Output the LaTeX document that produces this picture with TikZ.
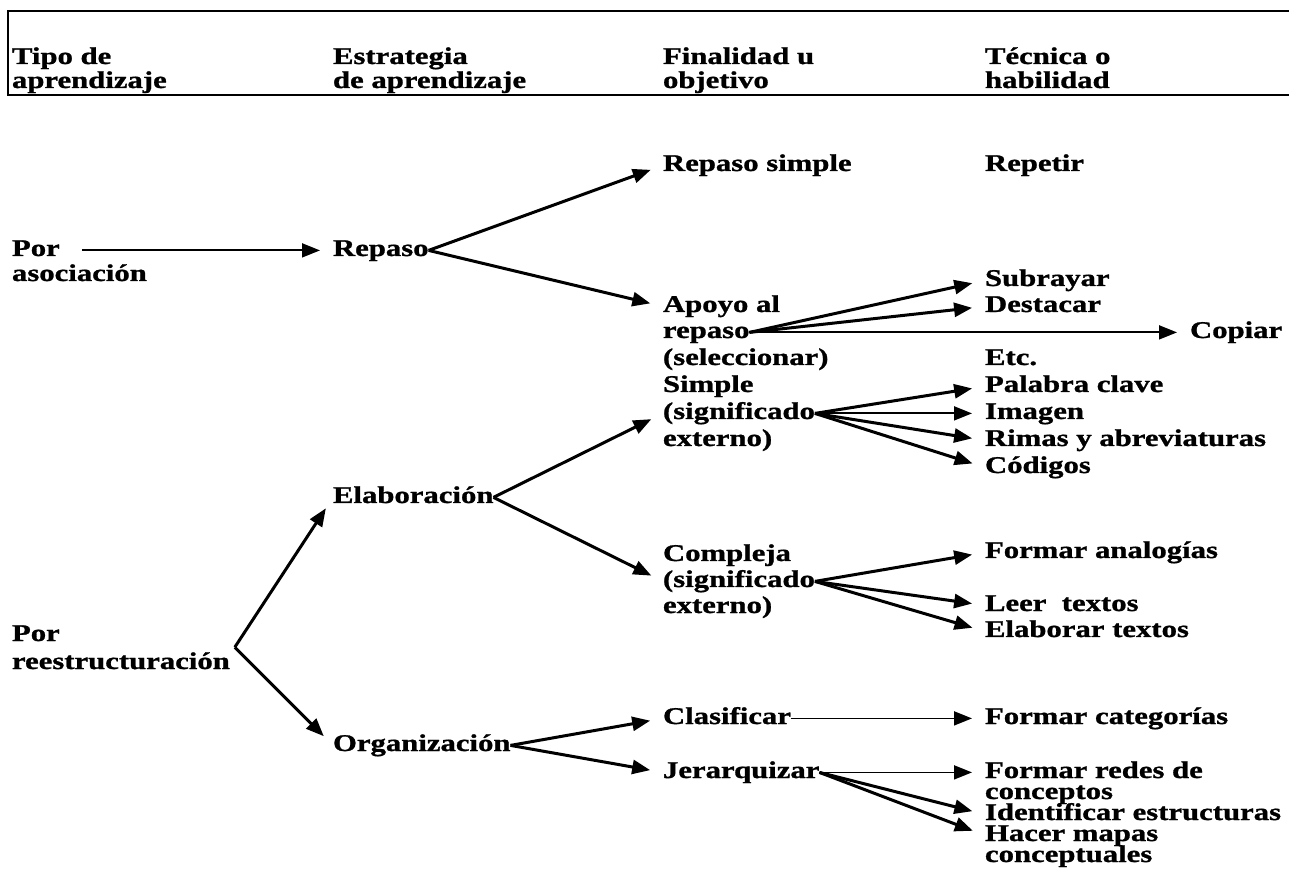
\documentclass[tikz,border=0pt]{standalone}
\usepackage{fontspec}
\newfontfamily\diagfont{Liberation Serif}[FakeStretch=1.28, BoldFeatures={FakeBold=1.1}]
\usepackage{tikz}
\usetikzlibrary{arrows.meta, positioning, calc}
\tikzset{
    entry/.style={
        anchor=base west,
        inner sep=0pt,
        outer sep=0pt,
        text height=8.4pt,
        text depth=2.8pt,
        font=\diagfont\bfseries\fontsize{12pt}{14pt}\selectfont
    },
    headtext/.style={
        entry
    },
    link/.style={
        draw=black,
        line width=1.5pt,
        -{Triangle[length=9pt, width=7pt]},
        shorten >=6.5pt
    },
    flatlink/.style={
        link,
        line width=0.9pt
    },
    frame/.style={
        draw=black,
        line width=0.9pt
    }
}

\begin{document}
\begin{tikzpicture}[x=0.5pt, y=-0.5pt]

\useasboundingbox (0,0) rectangle (1289,870);
\fill[white] (0,0) rectangle (1289,870);

% Header
\draw[frame] (1289,11) -- (8,11) -- (8,95) -- (1289,95);
\node[headtext] (tipoA) at (12,64) {Tipo de};
\node[headtext] (tipoB) at (12,88) {aprendizaje};
\node[headtext] (estrA) at (333,64) {Estrategia};
\node[headtext] (estrB) at (333,88) {de aprendizaje};
\node[headtext] (finA) at (663,64) {Finalidad u};
\node[headtext] (finB) at (663,88) {objetivo};
\node[headtext] (tecA) at (985,64) {Técnica o};
\node[headtext] (tecB) at (985,88) {habilidad};

% Tipo de aprendizaje
\node[entry] (asocA) at (12,256) {Por};
\node[entry] (asocB) at (12,281) {asociación};
\node[entry] (reestA) at (12,641) {Por};
\node[entry] (reestB) at (12,669) {reestructuración};

% Estrategias
\node[entry] (repaso) at (333,256) {Repaso};
\node[entry] (elab) at (333,503) {Elaboración};
\node[entry] (organ) at (333,751) {Organización};

% Finalidades
\node[entry] (repsimple) at (663,171) {Repaso simple};
\node[entry] (apoyoA) at (663,312) {Apoyo al};
\node[entry] (apoyoB) at (663,338) {repaso};
\node[entry] (apoyoC) at (663,365) {(seleccionar)};
\node[entry] (simpleA) at (663,392) {Simple};
\node[entry] (simpleB) at (663,419) {(significado};
\node[entry] (simpleC) at (663,446) {externo)};
\node[entry] (complA) at (663,561) {Compleja};
\node[entry] (complB) at (663,587) {(significado};
\node[entry] (complC) at (663,613) {externo)};
\node[entry] (clasif) at (663,724) {Clasificar};
\node[entry] (jerarq) at (663,778) {Jerarquizar};

% Tecnicas
\node[entry] (repetir) at (985,171) {Repetir};
\node[entry] (subrayar) at (985,286) {Subrayar};
\node[entry] (destacar) at (985,312) {Destacar};
\node[entry] (copiar) at (1190,338) {Copiar};
\node[entry] (etc) at (985,365) {Etc.};
\node[entry] (palabra) at (985,392) {Palabra clave};
\node[entry] (imagen) at (985,419) {Imagen};
\node[entry] (rimas) at (985,446) {Rimas y abreviaturas};
\node[entry] (codigos) at (985,473) {Códigos};
\node[entry] (analog) at (985,558) {Formar analogías};
\node[entry] (leer) at (985,611) {Leer~ textos};
\node[entry] (elabtex) at (985,637) {Elaborar textos};
\node[entry] (categ) at (985,724) {Formar categorías};
\node[entry] (redesA) at (985,778) {Formar redes de};
\node[entry] (redesB) at (985,799) {conceptos};
\node[entry] (identif) at (985,820) {Identificar estructuras};
\node[entry] (mapasA) at (985,841) {Hacer mapas};
\node[entry] (mapasB) at (985,862) {conceptuales};

% Connectors
\draw[flatlink, shorten <=11pt] (asocA.east) -- (repaso.west);
\draw[link] (repaso.east) -- (repsimple.west);
\draw[link] (repaso.east) -- (apoyoA.west);
\draw[link] (apoyoB.east) -- (subrayar.west);
\draw[link] (apoyoB.east) -- (destacar.west);
\draw[flatlink] (apoyoB.east) -- (copiar.west);

\draw[link] (elab.east) -- (simpleB.west);
\draw[link] (elab.east) -- (complB.west);
\draw[link] (simpleB.east) -- (palabra.west);
\draw[flatlink] (simpleB.east) -- (imagen.west);
\draw[link] (simpleB.east) -- (rimas.west);
\draw[link] (simpleB.east) -- (codigos.west);
\draw[link] (complB.east) -- (analog.west);
\draw[link] (complB.east) -- (leer.west);
\draw[link] (complB.east) -- (elabtex.west);

\coordinate (reestfork) at ($(reestB.north east)+(5,-5)$);
\draw[link] (reestfork) -- (elab.west);
\draw[link] (reestfork) -- (organ.west);
\draw[link] (organ.east) -- (clasif.west);
\draw[link] (organ.east) -- (jerarq.west);
\draw[flatlink] (clasif.east) -- (categ.west);
\draw[flatlink] (jerarq.east) -- (redesA.west);
\draw[link] (jerarq.east) -- (identif.west);
\draw[link] (jerarq.east) -- (mapasA.west);

\end{tikzpicture}
\end{document}
